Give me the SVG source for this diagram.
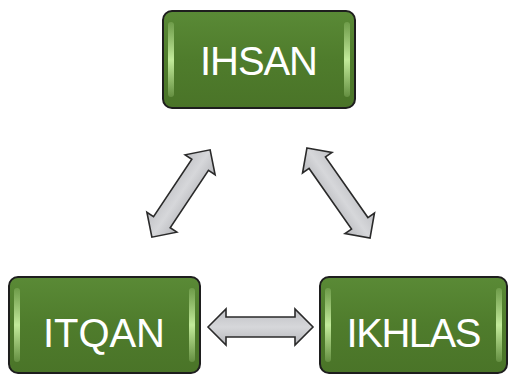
<svg xmlns="http://www.w3.org/2000/svg" width="508" height="374" viewBox="0 0 508 374">
<defs>
<linearGradient id="gb" x1="0" y1="0" x2="0" y2="1">
<stop offset="0" stop-color="#5a8a36"/>
<stop offset="0.5" stop-color="#4f7c2c"/>
<stop offset="1" stop-color="#4a7428"/>
</linearGradient>
<linearGradient id="hl" x1="0" y1="0" x2="0" y2="1">
<stop offset="0" stop-color="#c8f0a0" stop-opacity="0.2"/>
<stop offset="0.5" stop-color="#c8f0a0" stop-opacity="0.95"/>
<stop offset="1" stop-color="#c8f0a0" stop-opacity="0.2"/>
</linearGradient>
<linearGradient id="ga" x1="0" y1="0" x2="0" y2="1">
<stop offset="0" stop-color="#bfc0c4"/>
<stop offset="0.5" stop-color="#d6d7da"/>
<stop offset="1" stop-color="#b6b7bb"/>
</linearGradient>
<path id="arr105" d="M-52.5,0 L-34.5,-18 L-34.5,-10 L34.5,-10 L34.5,-18 L52.5,0 L34.5,18 L34.5,10 L-34.5,10 L-34.5,18 Z"/>
<path id="arr110" d="M-55,0 L-37,-18 L-37,-10 L37,-10 L37,-18 L55,0 L37,18 L37,10 L-37,10 L-37,18 Z"/>
</defs>
<style>
.box{fill:url(#gb);stroke:#1e1e1e;stroke-width:2}
.hl{fill:url(#hl)}
.lbl{font-family:"Liberation Sans",Arial,sans-serif;font-size:40px;fill:#ffffff;text-anchor:middle}
.arr{fill:url(#ga);stroke:#2a2a2a;stroke-width:1.6;stroke-linejoin:miter}
</style>
<g id="connectors">
<use href="#arr105" class="arr" transform="translate(181,193.5) rotate(-56.3)"/>
<use href="#arr110" class="arr" transform="translate(338.5,193) rotate(55)"/>
<use href="#arr105" class="arr" transform="translate(260.5,327)"/>
</g>
<g id="ihsan">
<rect class="box" x="163" y="11" width="192" height="97" rx="9"/>
<rect class="hl" x="168" y="22" width="6" height="75" rx="3"/>
<rect class="hl" x="344" y="22" width="6" height="75" rx="3"/>
<text class="lbl" x="259" y="75" textLength="118">IHSAN</text>
</g>
<g id="itqan">
<rect class="box" x="9" y="277" width="191" height="96" rx="9"/>
<rect class="hl" x="14" y="288" width="6" height="74" rx="3"/>
<rect class="hl" x="189" y="288" width="6" height="74" rx="3"/>
<text class="lbl" x="104" y="347" textLength="122">ITQAN</text>
</g>
<g id="ikhlas">
<rect class="box" x="320" y="277" width="187" height="96" rx="9"/>
<rect class="hl" x="325" y="288" width="6" height="74" rx="3"/>
<rect class="hl" x="496" y="288" width="6" height="74" rx="3"/>
<text class="lbl" x="414" y="347" textLength="135">IKHLAS</text>
</g>
</svg>
